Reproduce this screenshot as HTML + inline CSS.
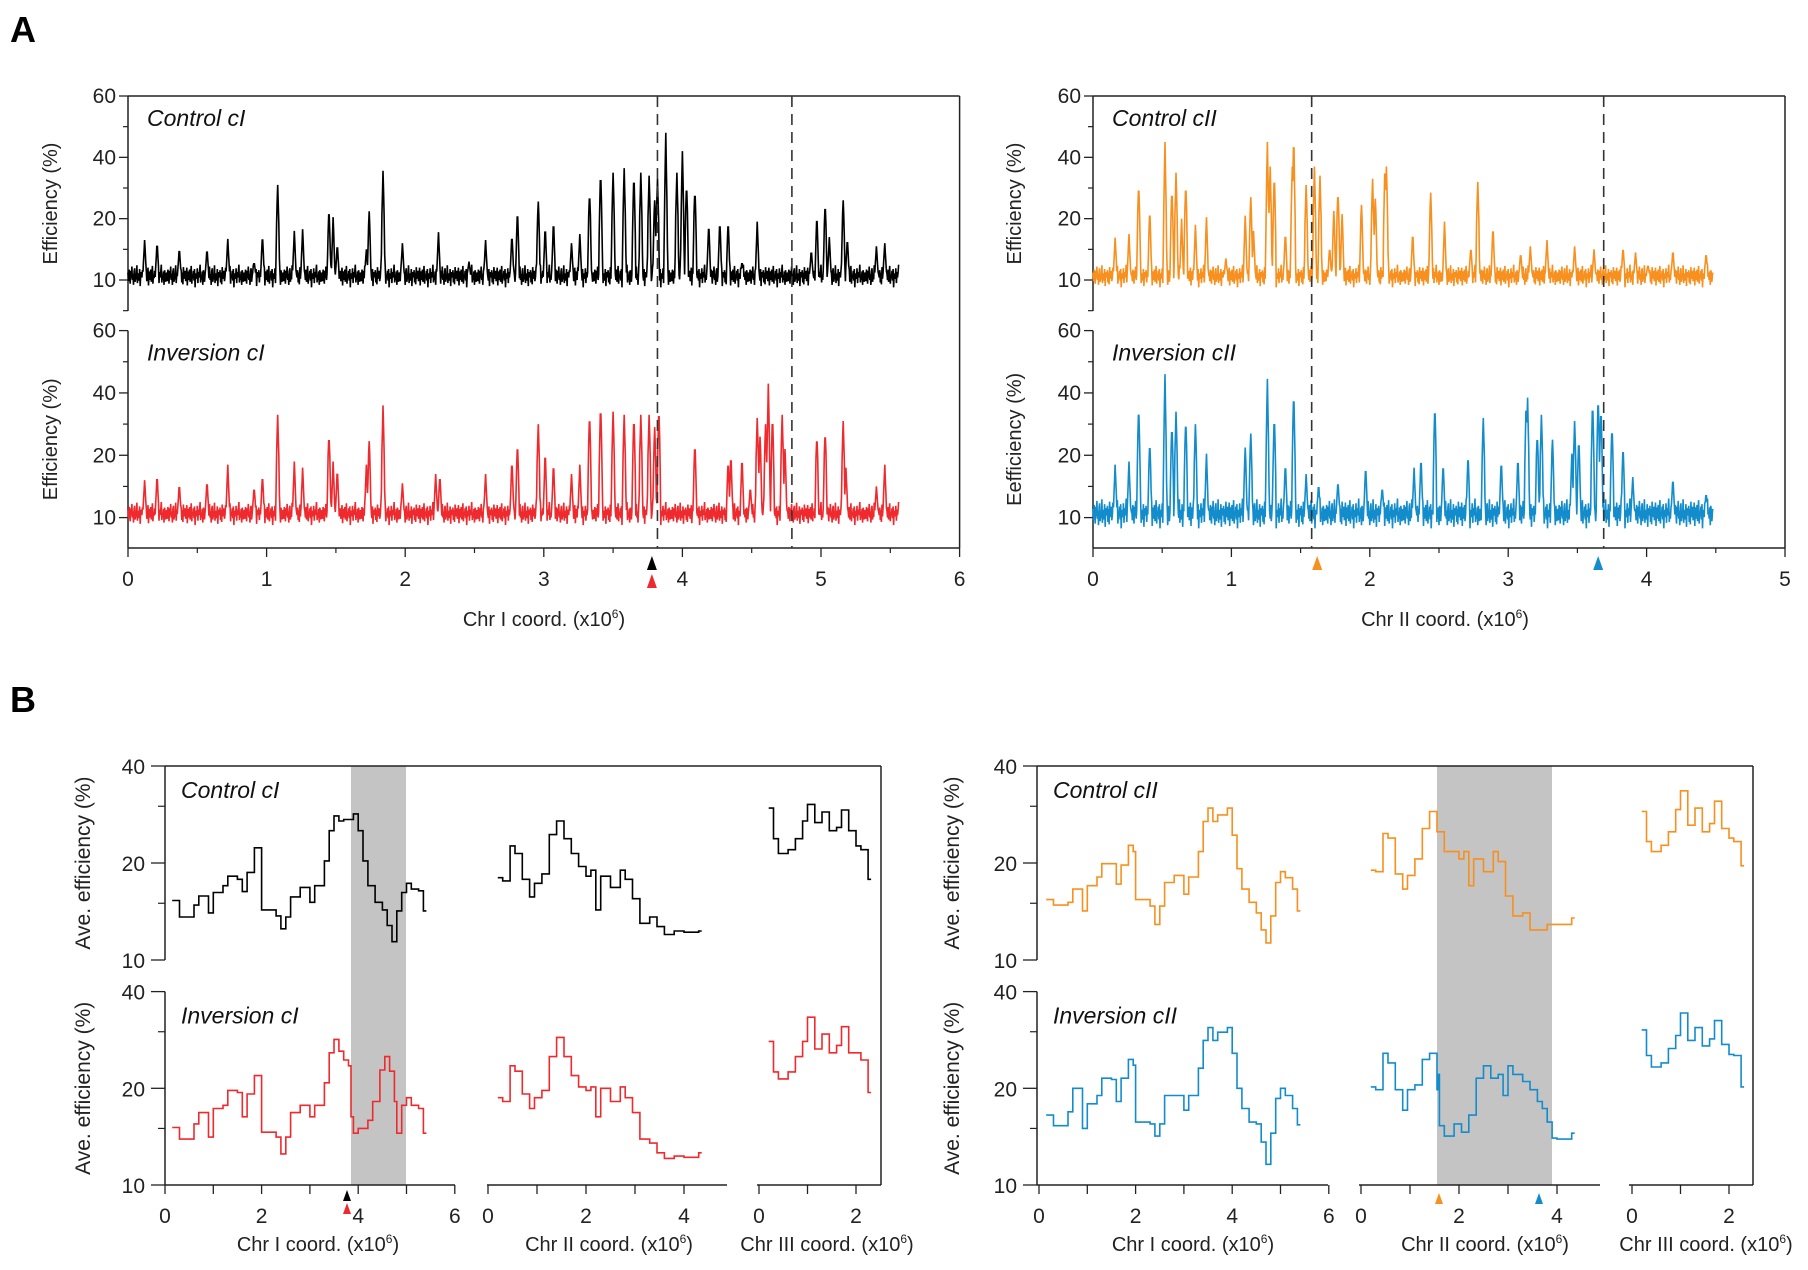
<!DOCTYPE html>
<html><head><meta charset="utf-8">
<style>
html,body{margin:0;padding:0;background:#fff;}
svg{display:block;font-family:"Liberation Sans",Arial,sans-serif;}
</style></head>
<body>
<svg id="fig" width="1808" height="1270" viewBox="0 0 1808 1270" xmlns="http://www.w3.org/2000/svg">
<text x="10" y="42" font-size="36" font-weight="bold">A</text>
<text x="10" y="712" font-size="36" font-weight="bold">B</text>
</svg>
<script>
// ---------- Panel A data: peaks [position (Mb), height (%)] ----------
const peaksCtrlI = [[0.12,16.5],[0.21,16.3],[0.37,15.3],[0.57,15.2],[0.72,16.7],[0.91,13],[0.97,17.5],[1.08,31],[1.2,18],[1.26,18.3],[1.45,23],[1.48,20.5],[1.51,16],[1.72,15],[1.74,22.4],[1.84,35.6],[1.98,16],[2.24,17.8],[2.46,13],[2.58,16.5],[2.77,17.6],[2.81,22.2],[2.96,25.6],[3.01,19],[3.07,20],[3.2,16],[3.26,17.5],[3.33,29],[3.41,36],[3.5,35],[3.58,36.5],[3.65,35],[3.7,35],[3.76,34],[3.8,26],[3.82,33],[3.88,48],[3.96,35],[4.0,42],[4.03,32],[4.09,30],[4.19,19.5],[4.27,20],[4.33,20],[4.43,13],[4.54,19.5],[4.93,15],[4.97,21],[5.03,25],[5.06,17],[5.16,26],[5.19,17],[5.4,15.5],[5.46,16]];
const peaksInvI = [[0.12,16],[0.21,17],[0.37,15.5],[0.57,16],[0.72,18.5],[0.91,15],[0.97,17],[1.08,33],[1.2,19],[1.26,18],[1.45,27],[1.48,19],[1.51,18],[1.72,18.5],[1.74,24.5],[1.84,36],[1.98,15.5],[2.22,17],[2.25,17],[2.58,17],[2.77,19.5],[2.81,23.5],[2.96,30],[3.01,21],[3.07,19],[3.2,17],[3.26,18.5],[3.33,34],[3.41,37],[3.5,34],[3.58,33],[3.65,33],[3.7,33],[3.76,33],[3.8,29],[3.83,36],[4.09,23.5],[4.33,19.5],[4.35,20.5],[4.43,20],[4.49,15],[4.54,32],[4.56,26],[4.6,30],[4.62,43],[4.65,33],[4.72,33],[4.74,22],[4.97,26.5],[5.03,28],[5.16,31],[5.18,18],[5.4,15],[5.46,18.5]];
const peaksCtrlII = [[0.16,16.9],[0.26,17.5],[0.33,32],[0.41,22.5],[0.52,45],[0.57,30],[0.6,35],[0.64,20],[0.67,32],[0.74,19],[0.82,20.5],[0.96,13.5],[1.1,21],[1.14,27],[1.16,18],[1.26,45],[1.28,37],[1.31,35],[1.39,18],[1.44,37],[1.45,48.5],[1.54,31],[1.6,37],[1.64,34],[1.71,15.5],[1.74,22.5],[1.77,29.5],[1.8,21.5],[1.94,24.5],[2.02,33],[2.04,26.5],[2.11,38.5],[2.12,37],[2.31,18],[2.44,28.5],[2.54,19.5],[2.73,15.5],[2.78,32],[2.89,19],[3.09,14.5],[3.16,15.5],[3.28,16.5],[3.48,15.5],[3.62,15],[3.83,15.5],[3.92,14.5],[4.01,12.5],[4.19,15],[4.43,14.5]];
const peaksInvII = [[0.16,18.5],[0.26,19],[0.33,36.5],[0.41,24],[0.52,46],[0.57,30],[0.6,34],[0.67,32],[0.74,30],[0.82,20.5],[1.1,22.5],[1.14,27],[1.26,44.5],[1.31,33],[1.39,19],[1.45,41.5],[1.54,17],[1.63,15.5],[1.77,16],[1.97,18.5],[2.09,15],[2.32,18],[2.37,20],[2.47,37],[2.53,19],[2.71,20.5],[2.82,32],[2.95,19.5],[3.07,20],[3.13,38],[3.14,38.5],[3.21,27],[3.24,33],[3.32,25],[3.46,20.5],[3.48,31],[3.51,25],[3.61,38],[3.65,40],[3.67,36],[3.75,29.5],[3.83,22.5],[3.9,16.5],[4.19,16.5],[4.43,14]];
const baselineNoise = [0.6,-0.8,1.1,0.2,-1.2,0.9,-0.3,1.6,-0.6,0.4,-1.4,0.8,1.3,-0.9,0.1,-0.5,1.8,-1.1,0.5,0.0,-0.7,1.2,-1.6,0.7,0.3,-0.2,1.0,-1.0,0.6,-1.3,1.5,-0.4,0.2,0.9,-0.8,-0.1,1.4,-1.5,0.8,0.4,-0.6,1.1,-0.9,0.0,1.7,-1.2,0.3,-0.3,0.9,-0.7,1.2,-1.8,0.5,0.1,-0.4,1.3,-1.1,0.7,-0.2,0.6,1.9,-1.0,0.2,-0.6,0.8,-1.4,1.0,0.3,-0.9,0.4];
const ticksA_y = [10,20,40,60];
const ticksA_xI = [0,1,2,3,4,5,6];
const ticksA_xII = [0,1,2,3,4,5];

// ---------- Panel B data: [position (Mb), average efficiency (%)] ----------
const bCtrlI_I = [[0.15,15.3],[0.3,13.6],[0.6,14.8],[0.7,15.8],[0.9,14],[1.0,16.2],[1.2,17],[1.3,18.2],[1.5,17.8],[1.6,16.3],[1.7,18.7],[1.85,22.3],[1.95,22.3],[2.0,14.3],[2.3,13.7],[2.4,12.5],[2.5,13.6],[2.6,15.7],[2.8,16.8],[3.0,15.1],[3.1,17],[3.3,20.3],[3.4,25.2],[3.5,28],[3.6,27],[3.7,27.3],[3.9,28.4],[4.0,25.2],[4.1,20.3],[4.2,17],[4.35,15.1],[4.5,14.3],[4.6,12.8],[4.7,11.4],[4.8,14.2],[4.9,16.2],[5.0,17.3],[5.1,16.6],[5.25,16.4],[5.35,14.2]];
const bCtrlI_II = [[0.2,18],[0.3,17.6],[0.45,22.6],[0.55,21.4],[0.7,17.8],[0.85,15.7],[0.95,17.3],[1.1,18.5],[1.25,24.5],[1.4,27],[1.55,23.8],[1.7,21.4],[1.85,19.5],[2.0,18.2],[2.1,19],[2.2,14.3],[2.3,18.2],[2.5,16.8],[2.7,19],[2.8,17.8],[2.95,15.5],[3.1,13],[3.3,13.6],[3.45,12.7],[3.6,12],[3.8,12.3],[4.0,12.2],[4.3,12.3]];
const bCtrlI_III = [[0.2,29.6],[0.3,23.8],[0.4,21.4],[0.6,22],[0.75,23.8],[0.9,27],[1.0,30.4],[1.15,26.7],[1.3,28.8],[1.45,25.2],[1.6,25.8],[1.7,29.2],[1.85,25.2],[2.0,22.6],[2.1,22],[2.25,17.8]];
const bInvI_I = [[0.15,15.1],[0.3,13.9],[0.6,15.5],[0.7,16.8],[0.9,14.1],[1.0,17.3],[1.2,17.7],[1.3,19.7],[1.5,19.4],[1.6,16.3],[1.7,19.2],[1.85,21.9],[1.95,21.9],[2.0,14.6],[2.3,14.1],[2.4,12.5],[2.5,14.1],[2.6,16.8],[2.8,17.7],[3.0,16.3],[3.1,17.7],[3.3,20.8],[3.4,25.8],[3.5,28.4],[3.6,26.1],[3.7,24.5],[3.8,23.5],[3.85,16.3],[3.9,14.5],[4.0,15],[4.2,15.9],[4.3,18.2],[4.45,22.8],[4.55,25.1],[4.65,22.6],[4.75,18.2],[4.8,14.5],[4.9,17.7],[5.0,18.7],[5.1,17.7],[5.25,17.3],[5.35,14.5]];
const bInvI_II = [[0.2,18.7],[0.3,18.2],[0.45,23.5],[0.55,22.6],[0.7,19.2],[0.85,17.3],[0.95,18.7],[1.1,19.7],[1.25,25.1],[1.4,28.8],[1.55,25.1],[1.7,21.9],[1.85,20.2],[2.0,19.7],[2.1,20.2],[2.2,16.3],[2.3,20],[2.5,18.2],[2.7,20.2],[2.8,18.7],[2.95,16.8],[3.1,13.9],[3.3,13.5],[3.45,12.6],[3.6,12.1],[3.8,12.3],[4.0,12.2],[4.3,12.6]];
const bInvI_III = [[0.2,28],[0.3,22.5],[0.4,21.4],[0.6,22.5],[0.75,25.1],[0.9,28],[1.0,33.3],[1.15,26.5],[1.3,29.5],[1.45,25.8],[1.6,27.2],[1.7,31.1],[1.85,25.8],[2.0,25.8],[2.1,24.5],[2.25,19.4]];
const bCtrlII_I = [[0.15,15.4],[0.3,14.8],[0.6,15.1],[0.7,16.6],[0.9,14.2],[1.0,17],[1.2,18.1],[1.3,19.9],[1.5,19.9],[1.6,17.2],[1.7,19.7],[1.85,22.7],[1.95,21.7],[2.0,15.4],[2.3,14.7],[2.4,12.9],[2.5,14.7],[2.6,17.4],[2.8,18.3],[3.0,16],[3.1,18.1],[3.3,21.7],[3.4,26.9],[3.5,29.6],[3.6,26.9],[3.7,28.2],[3.9,29.6],[4.0,24.4],[4.1,19.2],[4.2,16.6],[4.35,15.1],[4.5,14],[4.6,12.4],[4.7,11.3],[4.8,13.7],[4.9,17.4],[5.0,18.8],[5.1,18],[5.25,16.6],[5.35,14.2]];
const bCtrlII_II = [[0.2,19],[0.3,18.8],[0.45,24.7],[0.55,23.9],[0.7,18.5],[0.85,16.6],[0.95,18.3],[1.1,20.6],[1.25,25.6],[1.4,28.9],[1.55,25],[1.7,21.7],[1.85,21.7],[2.0,20.6],[2.1,21.7],[2.2,17],[2.3,20.6],[2.5,18.8],[2.7,21.7],[2.8,20.2],[2.95,15.8],[3.1,13.7],[3.3,14],[3.45,12.4],[3.6,12.4],[3.8,12.9],[4.0,12.9],[4.3,13.5]];
const bCtrlII_III = [[0.2,28.9],[0.3,23.3],[0.4,21.7],[0.6,22.7],[0.75,25],[0.9,29.3],[1.0,33.5],[1.15,26.2],[1.3,29.6],[1.45,25],[1.6,26.5],[1.7,31.1],[1.85,25.6],[2.0,23.9],[2.1,23.3],[2.25,19.6]];
const bInvII_I = [[0.15,16.5],[0.3,15.3],[0.6,16.9],[0.7,20],[0.9,15],[1.0,17.9],[1.2,19],[1.3,21.5],[1.5,21.3],[1.6,18.2],[1.7,21.5],[1.85,24.6],[1.95,23.6],[2.0,15.7],[2.3,15.5],[2.4,14.2],[2.5,15.5],[2.6,19],[2.8,19],[3.0,17.1],[3.1,19],[3.3,23.1],[3.4,28.2],[3.5,30.9],[3.6,28.2],[3.7,29.9],[3.9,30.9],[4.0,25.7],[4.1,20],[4.2,17.3],[4.35,15.7],[4.5,15.5],[4.6,13.6],[4.7,11.6],[4.8,14.5],[4.9,18.6],[5.0,20],[5.1,19],[5.25,17.3],[5.35,15.4]];
const bInvII_II = [[0.2,20.2],[0.3,19.8],[0.45,25.7],[0.55,24],[0.7,19.8],[0.85,17.1],[0.95,19.8],[1.1,20.5],[1.25,24.6],[1.4,25.7],[1.55,19.8],[1.58,22.1],[1.6,15.3],[1.7,14.2],[1.9,15.5],[2.05,14.6],[2.2,16.5],[2.35,21.5],[2.5,23.5],[2.65,21.5],[2.8,22.1],[2.9,19],[3.0,23.5],[3.1,22.1],[3.2,22.1],[3.3,21],[3.45,19.8],[3.6,18.2],[3.7,17.3],[3.8,15.7],[3.9,14],[4.0,13.9],[4.3,14.5]];
const bInvII_III = [[0.2,30.4],[0.3,25.3],[0.4,23.3],[0.6,24],[0.75,26.6],[0.9,29.2],[1.0,34.3],[1.15,28.2],[1.3,30.9],[1.45,27.1],[1.6,28.5],[1.7,32.5],[1.85,27.4],[2.0,25.5],[2.1,25.3],[2.25,20.2]];
const ticksB_y = [10,20,40];

const NS = "http://www.w3.org/2000/svg";
const svg = document.getElementById('fig');
function mk(tag, attrs, parent){ const e=document.createElementNS(NS,tag); for(const k in attrs) e.setAttribute(k,attrs[k]); (parent||svg).appendChild(e); return e; }
function txt(s, attrs, parent){ const e=mk('text',attrs,parent); e.textContent=s; return e; }

const C = {black:'#000', red:'#ee2a2e', orange:'#f7901e', blue:'#138ccc'};

// ---------- Panel A ----------
function yA(v, y60, y10){
  const s=(y10-y60)/3;
  if(v<=20) return y10-(v-10)/10*s;
  if(v<=40) return y10-s-(v-20)/20*s;
  return y10-2*s-(v-40)/20*s;
}
function traceA(g, peaks, end, xs, yf, color, amp, name){
  let d=''; const step=0.004; let i=0;
  for(let x=0; x<=end; x+=step, i++){
    let v=10.6+baselineNoise[i%baselineNoise.length]*amp;
    for(const p of peaks){ const w=0.014; const dd=Math.abs(x-p[0]); if(dd<w){ const pv=p[1]-dd/w*(p[1]-10.5); if(pv>v) v=pv; } }
    d+=(d?'L':'M')+xs(x).toFixed(1)+' '+yf(v).toFixed(1);
  }
  const path=mk('path',{d:d,fill:'none',stroke:color,'stroke-width':1.6},g);
  
  
}
function panelA(o){
  const g=mk('g',{});
  
  
  const xs=v=>o.x0+v*o.ux;
  const subs=[{y60:96,y10:280,bot:311,peaks:o.p1,color:o.c1,label:o.l1,yt:o.yt1},{y60:330.6,y10:517.6,bot:548,peaks:o.p2,color:o.c2,label:o.l2,yt:o.yt2}];
  subs.forEach((s,si)=>{
    const yf=v=>yA(v,s.y60,s.y10);
    mk('line',{x1:o.x0,y1:s.y60,x2:o.x0,y2:s.bot,stroke:'#222','stroke-width':1.5},g);
    const sp=(s.y10-s.y60)/3;
    ticksA_y.forEach(t=>{const y=yf(t); mk('line',{x1:o.x0-9,y1:y,x2:o.x0,y2:y,stroke:'#222','stroke-width':1.3},g);
      const tl=txt(String(t),{x:o.x0-12,y:y+7,'font-size':21,'text-anchor':'end',fill:'#222'},g);
       });
    for(let k=0;k<4;k++){ const y=s.y60+sp/2+k*sp; if(y<=s.bot) mk('line',{x1:o.x0-5,y1:y,x2:o.x0,y2:y,stroke:'#222','stroke-width':1.2},g); }
    traceA(g,s.peaks,o.end,xs,yf,s.color,si===1&&o.noisy?1.3:1.0,'trace-'+s.label.toLowerCase().replace(/ /g,'-'));
    const lb=txt(s.label,{x:o.x0+19,y:s.y60+30,'font-size':23,'font-style':'italic',fill:'#111'},g);
     
    const cy=(s.y60+s.bot)/2;
    const yt=txt(s.yt,{x:o.ytx,y:cy,'font-size':20,'text-anchor':'middle',transform:`rotate(-90 ${o.ytx} ${cy})`,fill:'#222'},g);
     
  });
  const right=xs(o.xmax);
  mk('line',{x1:o.x0,y1:96,x2:right,y2:96,stroke:'#222','stroke-width':1.5},g);
  mk('line',{x1:right,y1:96,x2:right,y2:548,stroke:'#222','stroke-width':1.5},g);
  mk('line',{x1:o.x0,y1:548,x2:right,y2:548,stroke:'#222','stroke-width':1.5},g);
  o.xt.forEach(t=>{const x=xs(t); mk('line',{x1:x,y1:548,x2:x,y2:557,stroke:'#222','stroke-width':1.3},g);
    if(t<o.xmax) mk('line',{x1:xs(t+0.5),y1:548,x2:xs(t+0.5),y2:553,stroke:'#222','stroke-width':1.2},g);
    const tl=txt(String(t),{x:x,y:586,'font-size':21,'text-anchor':'middle',fill:'#222'},g);
     });
  o.dash.forEach(dx=>{const l=mk('line',{x1:xs(dx),y1:96,x2:xs(dx),y2:548,stroke:'#333','stroke-width':1.6,'stroke-dasharray':'11 7'},g);
     });
  o.arrows.forEach(a=>{const x=xs(a.x); const y=a.y;
    const p=mk('path',{d:`M${x-5} ${y+8}L${x+5} ${y+8}L${x} ${y-6}Z`,fill:a.c},g);
     });
  const xt=txt('',{x:o.xtx,y:626,'font-size':20,'text-anchor':'middle',fill:'#222'},g);
   
  xt.innerHTML=o.xtitle+' (x10<tspan dy="-8" font-size="12">6</tspan><tspan dy="8">)</tspan>';
}
panelA({name:'panel-a-chr1',x0:128,ux:138.6,xmax:6,end:5.56,p1:peaksCtrlI,p2:peaksInvI,c1:C.black,c2:C.red,l1:'Control cI',l2:'Inversion cI',
  yt1:'Efficiency (%)',yt2:'Efficiency (%)',ytx:57,xt:ticksA_xI,dash:[3.82,4.79],
  arrows:[{x:3.78,y:562,c:'#000'},{x:3.78,y:580,c:C.red}],xtx:544,xtitle:'Chr I coord.'});
panelA({name:'panel-a-chr2',x0:1093,ux:138.4,xmax:5,end:4.48,p1:peaksCtrlII,p2:peaksInvII,c1:C.orange,c2:C.blue,l1:'Control cII',l2:'Inversion cII',
  yt1:'Efficiency (%)',yt2:'Eefficiency (%)',ytx:1021,xt:ticksA_xII,dash:[1.58,3.69],noisy:true,
  arrows:[{x:1.62,y:562,c:C.orange},{x:3.65,y:562,c:C.blue}],xtx:1445,xtitle:'Chr II coord.'});

// ---------- Panel B ----------
function panelB(o){
  const g=mk('g',{});
  
  
  const subs=[{y40:766,y10:960,data:o.d1,color:o.c1,label:o.l1},{y40:991.6,y10:1185,data:o.d2,color:o.c2,label:o.l2}];
  const sh=mk('rect',{x:o.shade[0],y:766,width:o.shade[1]-o.shade[0],height:1185-766,fill:'#c4c4c4'},g);
   
  subs.forEach(s=>{
    const yf=v=>s.y10-(Math.log10(v)-1)/Math.log10(4)*(s.y10-s.y40);
    mk('line',{x1:o.ax0,y1:s.y40,x2:o.ax0,y2:s.y10,stroke:'#222','stroke-width':1.5},g);
    ticksB_y.forEach(t=>{const y=yf(t); mk('line',{x1:o.ax0-14,y1:y,x2:o.ax0,y2:y,stroke:'#222','stroke-width':1.3},g);
      const tl=txt(String(t),{x:o.ax0-20,y:y+8,'font-size':21,'text-anchor':'end',fill:'#222'},g);
       });
    [15,30].forEach(t=>{const y=yf(t); mk('line',{x1:o.ax0-7,y1:y,x2:o.ax0,y2:y,stroke:'#222','stroke-width':1.2},g);});
    o.chrs.forEach((c,ci)=>{
      const arr=s.data[ci]; let d='';
      arr.forEach((p,i)=>{const x=c.x0+p[0]*c.u, y=yf(p[1]);
        if(i===0) d='M'+x.toFixed(1)+' '+y.toFixed(1);
        else { d+='H'+x.toFixed(1)+'V'+y.toFixed(1); }
        if(i===arr.length-1) d+='H'+(x+3).toFixed(1);
      });
      const path=mk('path',{d:d,fill:'none',stroke:s.color,'stroke-width':1.6},g);
      
      
    });
    const lb=txt(s.label,{x:o.ax0+16,y:s.y40+32,'font-size':23,'font-style':'italic',fill:'#111'},g);
     
    const cy=(s.y40+s.y10)/2;
    const yt=txt('Ave. efficiency (%)',{x:o.ytx,y:cy,'font-size':21,'text-anchor':'middle',transform:`rotate(-90 ${o.ytx} ${cy})`,fill:'#222'},g);
     
  });
  mk('line',{x1:o.ax0,y1:766,x2:o.right,y2:766,stroke:'#222','stroke-width':1.5},g);
  mk('line',{x1:o.right,y1:766,x2:o.right,y2:1185,stroke:'#222','stroke-width':1.5},g);
  o.chrs.forEach(c=>{
    mk('line',{x1:c.a0,y1:1185,x2:c.a1,y2:1185,stroke:'#222','stroke-width':1.5},g);
    c.ticks.forEach(t=>{const x=c.x0+t*c.u; mk('line',{x1:x,y1:1185,x2:x,y2:1194,stroke:'#222','stroke-width':1.3},g);
      if(t%2===0){const tl=txt(String(t),{x:x,y:1223,'font-size':21,'text-anchor':'middle',fill:'#222'},g);
       }});
    const xt=txt('',{x:c.tx,y:1251,'font-size':20,'text-anchor':'middle',fill:'#222'},g);
     
    xt.innerHTML=c.title+' (x10<tspan dy="-8" font-size="12">6</tspan><tspan dy="8">)</tspan>';
  });
  o.arrows.forEach(a=>{const p=mk('path',{d:`M${a.x-4} ${a.y+6}L${a.x+4} ${a.y+6}L${a.x} ${a.y-5}Z`,fill:a.c},g);
     });
}
panelB({name:'panel-b-cI',ax0:165,right:881,shade:[351,406],ytx:90,c1:C.black,c2:C.red,l1:'Control cI',l2:'Inversion cI',
  d1:[bCtrlI_I,bCtrlI_II,bCtrlI_III],d2:[bInvI_I,bInvI_II,bInvI_III],
  chrs:[{name:'chr1',x0:165,u:48.3,a0:165,a1:455,ticks:[0,1,2,3,4,5,6],tx:318,title:'Chr I coord.'},
        {name:'chr2',x0:488,u:49,a0:487,a1:727,ticks:[0,1,2,3,4],tx:609,title:'Chr II coord.'},
        {name:'chr3',x0:759,u:48.5,a0:757,a1:881,ticks:[0,1,2],tx:827,title:'Chr III coord.'}],
  arrows:[{x:347,y:1195,c:'#000'},{x:347,y:1208,c:C.red}]});
panelB({name:'panel-b-cII',ax0:1037,right:1753,shade:[1437,1552],ytx:959,c1:C.orange,c2:C.blue,l1:'Control cII',l2:'Inversion cII',
  d1:[bCtrlII_I,bCtrlII_II,bCtrlII_III],d2:[bInvII_I,bInvII_II,bInvII_III],
  chrs:[{name:'chr1',x0:1039,u:48.3,a0:1037,a1:1328,ticks:[0,1,2,3,4,5,6],tx:1193,title:'Chr I coord.'},
        {name:'chr2',x0:1361,u:49,a0:1359,a1:1600,ticks:[0,1,2,3,4],tx:1485,title:'Chr II coord.'},
        {name:'chr3',x0:1632,u:48.5,a0:1629,a1:1753,ticks:[0,1,2],tx:1706,title:'Chr III coord.'}],
  arrows:[{x:1439,y:1198,c:C.orange},{x:1539,y:1198,c:C.blue}]});
</script>
</body></html>
